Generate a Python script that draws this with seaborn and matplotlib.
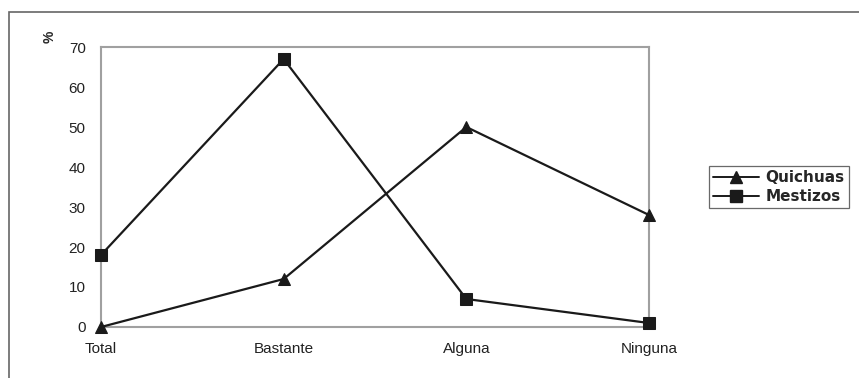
import matplotlib
matplotlib.use("Agg")
import matplotlib.pyplot as plt
import matplotlib.patches as patches
import seaborn as sns
import pandas as pd

categorias = ["Total", "Bastante", "Alguna", "Ninguna"]
quichuas = [0, 12, 50, 28]
mestizos = [18, 67, 7, 1]
series = ["Quichuas", "Mestizos"]

df = pd.DataFrame({
    "cat": categorias * 2,
    "valor": quichuas + mestizos,
    "grupo": [series[0]] * 4 + [series[1]] * 4,
})

sns.set_style("white")
plt.rcParams['font.family'] = ['Liberation Sans', 'DejaVu Sans']

fig = plt.figure(figsize=(8.59, 3.78), dpi=100)
ax = fig.add_axes([101/859, 1 - 327/378, (649 - 101)/859, (327 - 47)/378])

sns.lineplot(data=df, x="cat", y="valor", hue="grupo", style="grupo",
             palette=["#1a1a1a", "#1a1a1a"], markers={"Quichuas": "^", "Mestizos": "s"},
             dashes=False, sort=False, linewidth=1.6, markersize=9,
             markeredgecolor="#1a1a1a", ax=ax, legend=False, clip_on=False, zorder=3)

ax.set_xlim(0, 3)
ax.set_ylim(0, 70)
ax.set_yticks(range(0, 71, 10))
ax.tick_params(axis="both", length=0, labelsize=11, colors="#222222")
ax.tick_params(axis="y", pad=11)
ax.tick_params(axis="x", pad=11)
ax.set_xlabel("")
ax.set_ylabel("")
for s in ax.spines.values():
    s.set_color("#a0a0a0")
    s.set_linewidth(1.5)

fig.text(50/859, 1 - 37/378, "%", rotation=90, fontsize=10, fontweight="bold",
         ha="center", va="center")

# outer frame
fig.patches.append(patches.Rectangle((9/859, -0.05), 1.0, 1 - 12/378 + 0.05,
                                     transform=fig.transFigure, fill=False,
                                     edgecolor="#666666", linewidth=1.2))

handles = [plt.Line2D([], [], color="#1a1a1a", marker=m, markersize=8, linewidth=1.4)
           for m in ["^", "s"]]
leg = fig.legend(handles, series, loc="center",
                 bbox_to_anchor=(779/859, 1 - 187/378), frameon=True,
                 fancybox=False, handlelength=3.0, handletextpad=0.4,
                 borderpad=0.3, labelspacing=0.25, borderaxespad=0,
                 prop={"family": "DejaVu Sans", "weight": "bold", "size": 11})
leg.get_frame().set_edgecolor("#444444")
leg.get_frame().set_linewidth(0.9)

fig.savefig("out.png", dpi=100)
